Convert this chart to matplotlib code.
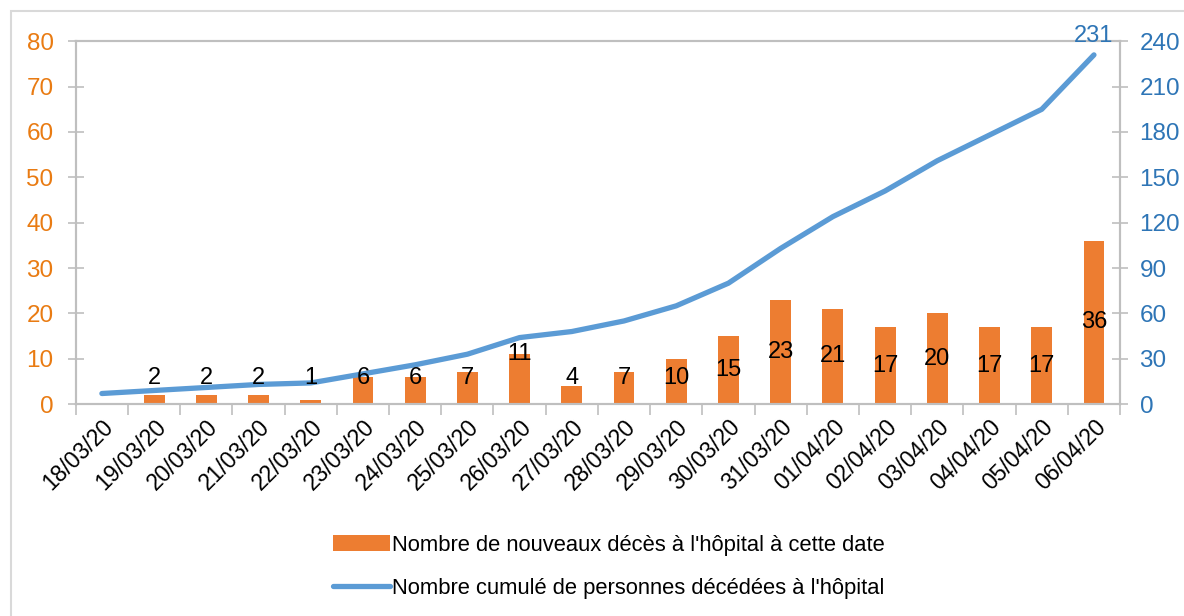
import matplotlib.pyplot as plt
import matplotlib.patches as mpatches
import numpy as np

plt.rcParams['font.family'] = ['Liberation Sans Narrow', 'Liberation Sans', 'DejaVu Sans']

dates = ["18/03/20", "19/03/20", "20/03/20", "21/03/20", "22/03/20", "23/03/20",
         "24/03/20", "25/03/20", "26/03/20", "27/03/20", "28/03/20", "29/03/20",
         "30/03/20", "31/03/20", "01/04/20", "02/04/20", "03/04/20", "04/04/20",
         "05/04/20", "06/04/20"]
nouveaux = [0, 2, 2, 2, 1, 6, 6, 7, 11, 4, 7, 10, 15, 23, 21, 17, 20, 17, 17, 36]
cumul = [7, 9, 11, 13, 14, 20, 26, 33, 44, 48, 55, 65, 80, 103, 124, 141, 161, 178, 195, 231]

orange = "#ED7D31"
bleu = "#5B9BD5"
gris = "#BFBFBF"

fig = plt.figure(figsize=(11.84, 6.16), dpi=100)
ax = fig.add_axes([0.064, 0.344, 0.882, 0.589])
ax2 = ax.twinx()

x = np.arange(len(dates))
ax.bar(x, nouveaux, width=0.4, color=orange, zorder=2,
       label="Nombre de nouveaux décès à l'hôpital à cette date")
ax2.plot(x, cumul, color=bleu, lw=3.8, solid_capstyle='round', zorder=3,
         label="Nombre cumulé de personnes décédées à l'hôpital")

# étiquettes des barres
for i, v in enumerate(nouveaux):
    if v == 0:
        continue
    y = v if v == 11 else max(v / 2, 5.8)
    ax2.text(i, y * 3, str(v), ha='center', va='center', fontsize=17, color='black', zorder=5)
ax2.text(x[-1], cumul[-1] + 5, str(cumul[-1]), ha='center', va='bottom', fontsize=17, color='#2E75B6')

ax.set_xlim(-0.5, len(dates) - 0.5)
ax.set_ylim(0, 80)
ax2.set_ylim(0, 240)
ax.set_yticks(range(0, 81, 10))
ax2.set_yticks(range(0, 241, 30))

ax.set_xticks(x)
ax.set_xticklabels(dates, rotation=45, ha='right', rotation_mode='anchor', fontsize=16.5)
ax.set_xticks(np.arange(-0.5, len(dates), 1), minor=True)
ax.tick_params(axis='x', which='major', length=0, pad=8)
ax.tick_params(axis='x', which='minor', length=8, width=1.2, color=gris, direction='out')
ax.tick_params(axis='y', direction='inout', length=12, width=1.2, color=gris,
               labelcolor="#E97B12", labelsize=17.5, pad=10)
ax2.tick_params(axis='y', direction='inout', length=12, width=1.2, color=gris,
                labelcolor="#2E75B6", labelsize=17.5, pad=8)

for a in (ax, ax2):
    for s in a.spines.values():
        s.set_color(gris)
        s.set_linewidth(1.5)

# cadre du graphique
fig.patches.append(mpatches.Rectangle((11 / 1184, -0.1), 1.2, 1 - 11 / 616 + 0.1,
                                      transform=fig.transFigure, fill=False,
                                      edgecolor='#D9D9D9', lw=1.5))

h1, l1 = ax.get_legend_handles_labels()
h2, l2 = ax2.get_legend_handles_labels()
fig.legend(h1 + h2, l1 + l2, loc='center', bbox_to_anchor=(0.514, 0.08),
           frameon=False, fontsize=15.8, handlelength=2.6, handletextpad=0.1,
           labelspacing=1.0)

fig.savefig("out.png", dpi=100)
